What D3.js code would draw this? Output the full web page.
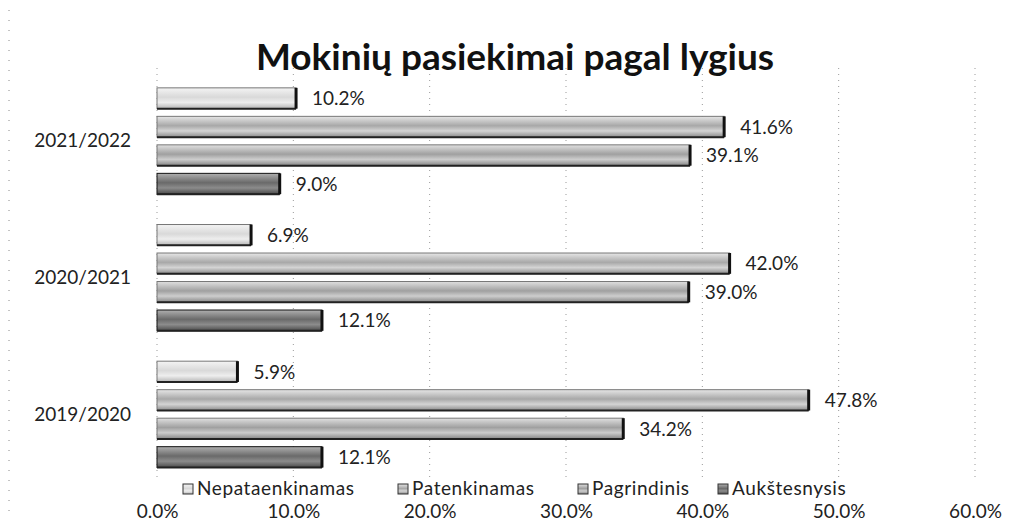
<!DOCTYPE html>
<html>
<head>
<meta charset="utf-8">
<script src="https://cdn.jsdelivr.net/npm/d3@7"></script>
<style>
  body { margin: 0; background: #fff; }
  text { font-family: Lato, "Open Sans", sans-serif; fill: #222; }
</style>
</head>
<body>
<div id="chart"></div>
<script>
var categories = ["2021/2022", "2020/2021", "2019/2020"];
var series = ["Nepataenkinamas", "Patenkinamas", "Pagrindinis", "Aukštesnysis"];
// values per category in the order of categories above
var nepataenkinamas = [10.2, 6.9, 5.9];
var patenkinamas = [41.6, 42.0, 47.8];
var pagrindinis = [39.1, 39.0, 34.2];
var aukstesnysis = [9.0, 12.1, 12.1];
var xTicks = [0, 10, 20, 30, 40, 50, 60];

var width = 1012, height = 520;

var svg = d3.select("#chart").append("svg")
  .attr("width", width)
  .attr("height", height);

// gradients, one per series (grey shades like the scan)
var shades = {
  "Nepataenkinamas": ["#f4f4f4", "#d9d9d9", "#eeeeee", "#b5b5b5"],
  "Patenkinamas": ["#e6e6e6", "#a8a8a8", "#d4d4d4", "#8a8a8a"],
  "Pagrindinis": ["#e0e0e0", "#a0a0a0", "#cdcdcd", "#858585"],
  "Aukštesnysis": ["#b0b0b0", "#6a6a6a", "#8c8c8c", "#4a4a4a"]
};
var defs = svg.append("defs");
series.forEach(function(s, i) {
  var g = defs.append("linearGradient")
    .attr("id", "grad" + i)
    .attr("x1", 0).attr("y1", 0).attr("x2", 0).attr("y2", 1);
  g.append("stop").attr("offset", "0%").attr("stop-color", shades[s][0]);
  g.append("stop").attr("offset", "45%").attr("stop-color", shades[s][1]);
  g.append("stop").attr("offset", "70%").attr("stop-color", shades[s][2]);
  g.append("stop").attr("offset", "100%").attr("stop-color", shades[s][3]);
});

var x = d3.scaleLinear().domain([0, 60]).range([157, 975]);
var y = d3.scaleBand().domain(categories).range([73, 483]);
var yInner = d3.scaleBand().domain(series).range([12, 124]).paddingInner(0.27).paddingOuter(0.1);

var rows = [];
categories.forEach(function(c, ci) {
  rows.push({cat: c, s: series[0], v: nepataenkinamas[ci]});
  rows.push({cat: c, s: series[1], v: patenkinamas[ci]});
  rows.push({cat: c, s: series[2], v: pagrindinis[ci]});
  rows.push({cat: c, s: series[3], v: aukstesnysis[ci]});
});

// dotted left frame from the scan
svg.append("line").attr("x1", 9).attr("x2", 9).attr("y1", 10).attr("y2", height)
  .attr("stroke", "#888").attr("stroke-dasharray", "1,9");

// grid
svg.append("g").selectAll("line")
  .data(xTicks)
  .enter().append("line")
  .attr("x1", function(d) { return x(d); })
  .attr("x2", function(d) { return x(d); })
  .attr("y1", 68).attr("y2", 478)
  .attr("stroke", "#999")
  .attr("stroke-dasharray", "1,5");

// title
svg.append("text")
  .attr("x", 515).attr("y", 70)
  .attr("text-anchor", "middle")
  .style("font-size", "37px")
  .style("font-weight", "bold")
  .style("fill", "#111")
  .text("Mokinių pasiekimai pagal lygius");

// bars
var bars = svg.append("g").selectAll("g.bar")
  .data(rows)
  .enter().append("g")
  .attr("class", "bar")
  .attr("transform", function(d) { return "translate(0," + (y(d.cat) + yInner(d.s)) + ")"; });

bars.append("rect")
  .attr("x", x(0))
  .attr("y", 0)
  .attr("width", function(d) { return x(d.v) - x(0); })
  .attr("height", yInner.bandwidth())
  .attr("fill", function(d) { return "url(#grad" + series.indexOf(d.s) + ")"; })
  .attr("stroke", function(d) { return d.s == "Aukštesnysis" ? "#111" : "#777"; })
  .attr("stroke-width", 1);

// dark bottom and end edges
bars.append("line")
  .attr("x1", x(0))
  .attr("x2", function(d) { return x(d.v); })
  .attr("y1", yInner.bandwidth()).attr("y2", yInner.bandwidth())
  .attr("stroke", "#222").attr("stroke-width", 2);
bars.append("line")
  .attr("x1", function(d) { return x(d.v); })
  .attr("x2", function(d) { return x(d.v); })
  .attr("y1", 0).attr("y2", yInner.bandwidth())
  .attr("stroke", "#111").attr("stroke-width", 3);

// value labels
bars.append("text")
  .attr("x", function(d) { return x(d.v) + 16; })
  .attr("y", yInner.bandwidth() / 2 + 7)
  .style("font-size", "19px")
  .text(function(d) { return d.v.toFixed(1) + "%"; });

// category labels
svg.append("g").selectAll("text")
  .data(categories)
  .enter().append("text")
  .attr("x", 131)
  .attr("y", function(d) { return y(d) + y.bandwidth() / 2 + 6; })
  .attr("text-anchor", "end")
  .style("font-size", "19px")
  .text(function(d) { return d; });

// x axis labels
var xAxis = d3.axisBottom(x).tickValues(xTicks)
  .tickFormat(function(d) { return d.toFixed(1) + "%"; })
  .tickSize(0).tickPadding(0);
var ax = svg.append("g").attr("transform", "translate(0,504)").call(xAxis);
ax.select(".domain").remove();
ax.selectAll("text").style("font-size", "19px").style("font-family", "Lato, sans-serif").attr("fill", "#222");

// legend
var legendX = [183, 398, 578, 718];
var leg = svg.append("g").selectAll("g")
  .data(series)
  .enter().append("g")
  .attr("transform", function(d, i) { return "translate(" + legendX[i] + ",484)"; });
leg.append("rect")
  .attr("width", 10).attr("height", 10)
  .attr("fill", function(d, i) { return "url(#grad" + i + ")"; })
  .attr("stroke", "#333");
leg.append("text")
  .attr("x", 14).attr("y", 11)
  .style("font-size", "19px")
  .style("letter-spacing", "0.6px")
  .text(function(d) { return d; });
</script>
</body>
</html>
